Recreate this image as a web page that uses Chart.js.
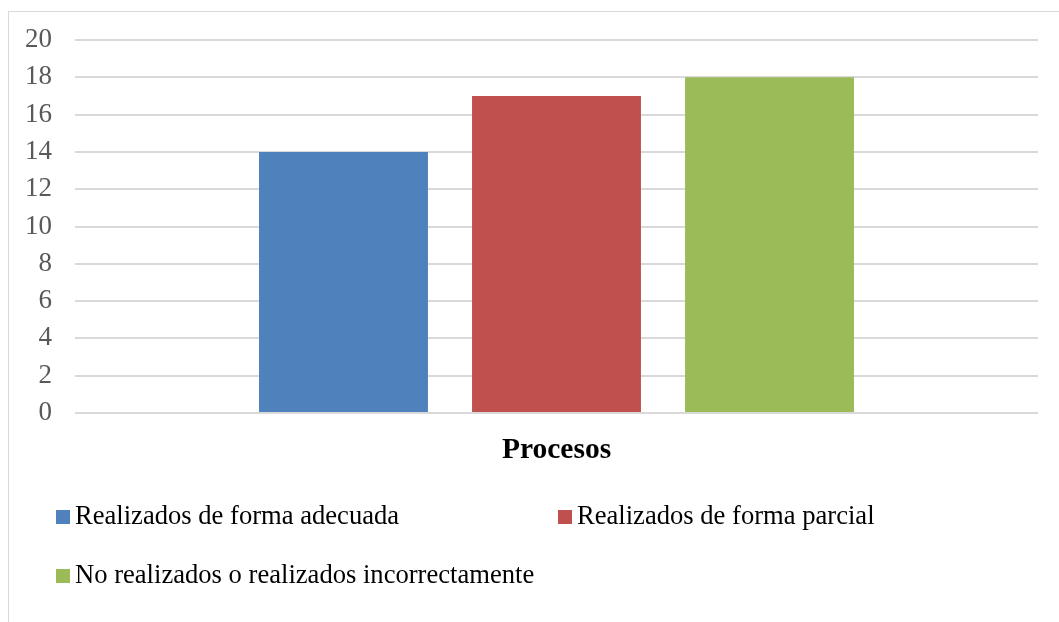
<!DOCTYPE html>
<html lang="es">
<head>
  <meta charset="UTF-8">
  <title>Procesos</title>
  <script src="https://cdn.jsdelivr.net/npm/chart.js"></script>
  <style>
    html, body { margin: 0; padding: 0; background: #fff; overflow: hidden; }
    #wrap { position: relative; width: 1059px; height: 622px; }
    #frame { position: absolute; left: 8px; top: 11px; width: 1100px; height: 700px;
             border-left: 1px solid #d9d9d9; border-top: 1px solid #d9d9d9; }
    #procChart { position: absolute; left: 0; top: 0; }
    .lg-box { position: absolute; width: 14px; height: 14px; }
    .lg-text { position: absolute; font: 26.6px 'Liberation Serif', 'Times New Roman', serif;
               line-height: 30px; color: #000; white-space: nowrap; }
  </style>
</head>
<body>
<div id="wrap">
  <div id="frame"></div>
  <canvas id="procChart" width="1059" height="622"></canvas>
  <div id="legend"></div>
</div>
<script>
  const categories = ['Procesos'];
  const seriesNames = [
    'Realizados de forma adecuada',
    'Realizados de forma parcial',
    'No realizados o realizados incorrectamente'
  ];
  const seriesValues = [[14], [17], [18]];
  const seriesColors = ['#4f81bd', '#c0504d', '#9bbb59'];
  const yTicks = [0, 2, 4, 6, 8, 10, 12, 14, 16, 18, 20];

  const serif = "'Liberation Serif', 'Times New Roman', serif";

  const ctx = document.getElementById('procChart').getContext('2d');
  const chart = new Chart(ctx, {
    type: 'bar',
    data: {
      labels: categories,
      datasets: seriesNames.map((name, i) => ({
        label: name,
        data: seriesValues[i],
        backgroundColor: seriesColors[i],
        borderWidth: 0,
        barPercentage: 0.793,
        categoryPercentage: 0.6636
      }))
    },
    options: {
      responsive: false,
      animation: false,
      layout: { padding: { top: 40, right: 21, bottom: 150, left: 0 } },
      plugins: {
        legend: { display: false },
        tooltip: { enabled: false }
      },
      scales: {
        x: {
          grid: { display: false },
          border: { display: false },
          ticks: {
            color: '#000',
            padding: 12,
            font: { family: serif, size: 29.5, weight: 'bold' }
          },
          afterFit: (s) => { s.height = 622 - 413 - 150; }
        },
        y: {
          min: yTicks[0],
          max: yTicks[yTicks.length - 1],
          afterBuildTicks: (s) => { s.ticks = yTicks.map(v => ({ value: v })); },
          grid: { color: '#d9d9d9', lineWidth: 2, drawTicks: false },
          border: { display: false },
          ticks: {
            color: '#595959',
            padding: 23,
            font: { family: serif, size: 27 }
          },
          afterFit: (s) => { s.width = 75; }
        }
      }
    }
  });

  // legend in two columns, like the original
  const colX = [56, 558];
  const rowY = [510, 569];
  const legend = document.getElementById('legend');
  chart.data.datasets.forEach((ds, i) => {
    const x = colX[i % 2], y = rowY[Math.floor(i / 2)];
    const box = document.createElement('div');
    box.className = 'lg-box';
    box.style.left = x + 'px';
    box.style.top = y + 'px';
    box.style.background = ds.backgroundColor;
    const txt = document.createElement('div');
    txt.className = 'lg-text';
    txt.style.left = (x + 19) + 'px';
    txt.style.top = (y - 10) + 'px';
    txt.textContent = ds.label;
    legend.appendChild(box);
    legend.appendChild(txt);
  });
</script>
</body>
</html>
